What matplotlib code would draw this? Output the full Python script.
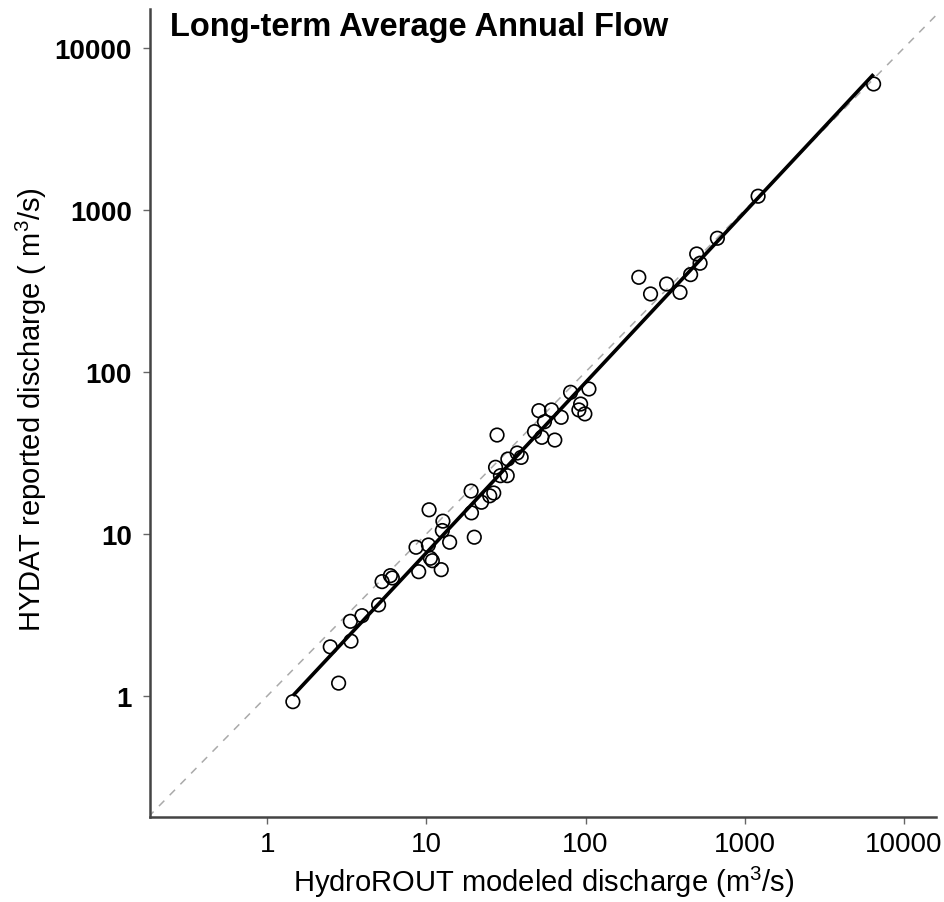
import numpy as np
import matplotlib
matplotlib.use("Agg")
import matplotlib.pyplot as plt

plt.rcParams['font.family'] = ['Liberation Sans', 'DejaVu Sans']
plt.rcParams['mathtext.default'] = 'regular'

# HydroROUT modeled discharge (m3/s)
modeled = [1.45, 2.49, 2.81, 3.36, 3.33, 3.94, 5.01, 5.27, 5.94, 6.11,
           8.95, 8.61, 10.4, 10.3, 10.6, 10.9, 12.4, 12.7, 12.6, 14.0,
           19.1, 19.2, 20.0, 22.2, 25.0, 26.5, 27.8, 27.2, 32.5, 37.2,
           39.4, 29.2, 32.2, 47.8, 53.1, 50.9, 55.2, 61.1, 64.1, 70.3,
           80.5, 105, 93.1, 90.8, 99.0, 216, 256, 323, 392, 457,
           499, 524, 673, 1213, 6447]
# HYDAT reported discharge (m3/s)
reported = [0.922, 2.01, 1.20, 2.18, 2.89, 3.13, 3.65, 5.08, 5.53, 5.35,
            5.85, 8.28, 14.1, 8.55, 7.08, 6.84, 6.02, 12.0, 10.5, 8.89,
            18.4, 13.5, 9.55, 15.7, 17.2, 17.9, 40.8, 25.8, 29.0, 31.6,
            29.7, 22.9, 22.9, 42.8, 39.5, 57.7, 49.3, 58.3, 38.0, 52.5,
            74.9, 78.5, 63.4, 58.3, 55.1, 384, 303, 349, 310, 399,
            535, 469, 669, 1216, 5995]

x_ticks = [1, 10, 100, 1000, 10000]
y_ticks = [1, 10, 100, 1000, 10000]
x_lim = (0.1836, 15900)
y_lim = (0.179, 17400)

title = "Long-term Average Annual Flow"
xlabel = "HydroROUT modeled discharge (m$^{3}$/s)"
ylabel = "HYDAT reported discharge ( m$^{3}$/s)"

mx = np.array(modeled)
ry = np.array(reported)

fig = plt.figure(figsize=(9.45, 9.03), dpi=100)
ax = fig.add_axes([150/945, 85/903, 786/945, 808/903])

ax.set_xscale('log')
ax.set_yscale('log')
ax.set_xlim(*x_lim)
ax.set_ylim(*y_lim)

# 1:1 line
lo = min(x_lim[0], y_lim[0])
hi = max(x_lim[1], y_lim[1])
ax.plot([lo, hi], [lo, hi], color='#aaaaaa', lw=1.1, ls=(0, (5, 5)), zorder=1)

# regression in log space
slope, icpt = np.polyfit(np.log10(mx), np.log10(ry), 1)
xf = np.array([mx.min(), mx.max()])
yf = 10 ** (icpt + slope * np.log10(xf))
ax.plot(xf, yf, color='black', lw=2.6, zorder=2, solid_capstyle='butt')

ax.scatter(mx, ry, s=95, facecolors='none', edgecolors='black', linewidths=1.2, zorder=3)

ax.set_xticks(x_ticks)
ax.set_xticklabels([str(t) for t in x_ticks])
ax.set_yticks(y_ticks)
ax.set_yticklabels([str(t) for t in y_ticks])
ax.minorticks_off()

for lab in ax.get_xticklabels():
    lab.set_fontsize(20)
for lab in ax.get_yticklabels():
    lab.set_fontsize(20)
    lab.set_fontweight('bold')

ax.tick_params(axis='both', direction='out', length=5, width=1, color='#666666')
ax.tick_params(axis='x', pad=5)
ax.tick_params(axis='y', pad=8)

for s in ['top', 'right']:
    ax.spines[s].set_visible(False)
for s in ['left', 'bottom']:
    ax.spines[s].set_color('#444444')
    ax.spines[s].set_linewidth(1.8)

ax.set_xlabel(xlabel, fontsize=21)
ax.set_ylabel(ylabel, fontsize=21)
ax.xaxis.set_label_coords(0.501, -0.058)
ax.yaxis.set_label_coords(-0.128, 0.505)

ax.text(170/945, 1 - 36/903, title, transform=fig.transFigure, fontsize=23.5,
        fontweight='bold', ha='left', va='baseline')

fig.savefig('out.png', dpi=100)
